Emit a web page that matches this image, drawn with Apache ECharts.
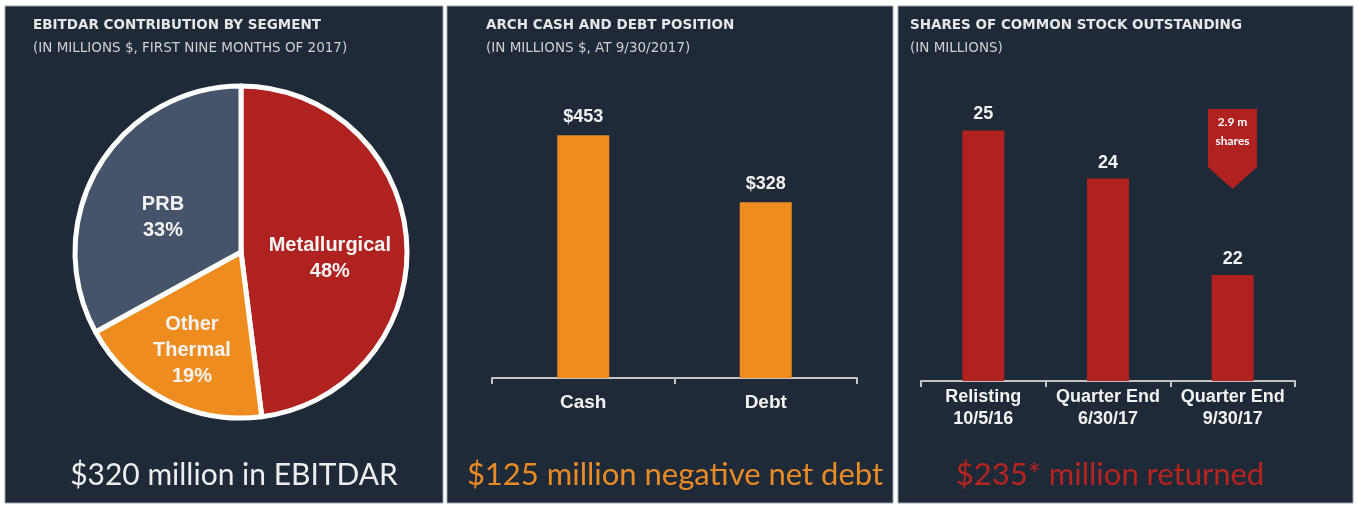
<!DOCTYPE html>
<html>
<head>
<meta charset="utf-8">
<script src="https://cdn.jsdelivr.net/npm/echarts@6/dist/echarts.min.js"></script>
<style>
  html, body { margin: 0; padding: 0; background: #ffffff; }
  #chart { width: 1358px; height: 505px; }
</style>
</head>
<body>
<div id="chart"></div>
<script>
// --- data ---
const segmentNames = ['Metallurgical', 'Other Thermal', 'PRB'];
const segmentShares = [48, 19, 33];
const positionCategories = ['Cash', 'Debt'];
const positionValues = [453, 328];
const shareCategories = ['Relisting\n10/5/16', 'Quarter End\n6/30/17', 'Quarter End\n9/30/17'];
const shareValues = [25, 24, 22];

const PANEL_BG = '#1f2a38';
const ORANGE = '#ee8c1f';
const RED = '#b0221f';
const SLATE = '#45546a';
const AXIS_GREY = '#c4c4c4';
const LABEL_FONT = '"Liberation Sans", Arial, sans-serif';
const HEAD_FONT = '"DejaVu Sans", "Liberation Sans", sans-serif';
const CAPTION_FONT = 'Lato, "Open Sans", sans-serif';

const segmentColors = { 'Metallurgical': RED, 'Other Thermal': ORANGE, 'PRB': SLATE };
const segmentLabelOffset = { 'Metallurgical': [3, 12], 'Other Thermal': [-10, 22], 'PRB': [-4, 9] };

const chart = echarts.init(document.getElementById('chart'));

const panel = (x, w) => ({ type: 'rect', shape: { x, y: 6, width: w, height: 497 }, style: { fill: PANEL_BG, stroke: '#9aa0a8', lineWidth: 1 }, z: -10 });
const caption = (x, text, color, size) => ({
    type: 'text', x, y: 475,
    style: { text, fill: color, font: `${size}px ${CAPTION_FONT}`, textAlign: 'center', textVerticalAlign: 'middle' }
});
const heading = (left, text, subtext) => ({
    text, subtext, left, top: 18, itemGap: 9, padding: 0,
    textStyle: { color: '#e6e6e6', fontSize: 13.5, fontWeight: 'bold', fontFamily: HEAD_FONT },
    subtextStyle: { color: '#cfcfcf', fontSize: 13.5, fontFamily: HEAD_FONT }
});
const categoryAxis = (gridIndex, data, fontSize, margin, lineHeight) => ({
    type: 'category', gridIndex, data,
    axisLine: { show: true, lineStyle: { color: AXIS_GREY, width: 2 } },
    axisTick: { show: true, length: 6, lineStyle: { color: AXIS_GREY, width: 2 } },
    axisLabel: { color: '#f2f2f2', fontSize, fontWeight: 'bold', fontFamily: LABEL_FONT, margin, lineHeight, interval: 0 }
});
const valueLabel = (distance) => ({
    show: true, position: 'top', distance,
    color: '#f2f2f2', fontSize: 18, fontWeight: 'bold', fontFamily: LABEL_FONT
});

chart.setOption({
    backgroundColor: '#ffffff',
    animation: false,
    title: [
        heading(33, 'EBITDAR CONTRIBUTION BY SEGMENT', '(IN MILLIONS $, FIRST NINE MONTHS OF 2017)'),
        heading(486, 'ARCH CASH AND DEBT POSITION', '(IN MILLIONS $, AT 9/30/2017)'),
        heading(910, 'SHARES OF COMMON STOCK OUTSTANDING', '(IN MILLIONS)')
    ],
    grid: [
        { left: 492, right: 501, top: 110, bottom: 127 },
        { left: 921, right: 63, top: 34, bottom: 124 }
    ],
    xAxis: [
        categoryAxis(0, positionCategories, 19, 14, 22),
        categoryAxis(1, shareCategories, 18, 5, 22)
    ],
    yAxis: [
        { type: 'value', gridIndex: 0, min: 0, max: 500, show: false },
        { type: 'value', gridIndex: 1, min: 19.8, max: 27, show: false }
    ],
    series: [
        {
            type: 'pie',
            center: [241, 252],
            radius: 166,
            startAngle: 90,
            clockwise: true,
            silent: true,
            itemStyle: { borderColor: '#ffffff', borderWidth: 5 },
            label: {
                show: true, position: 'inside',
                color: '#f4f4f4', fontSize: 20, fontWeight: 'bold', fontFamily: LABEL_FONT, lineHeight: 26,
                formatter: p => `${p.name.replace(' ', '\n')}\n${p.value}%`
            },
            labelLine: { show: false },
            data: segmentNames.map((name, i) => ({
                name, value: segmentShares[i],
                itemStyle: { color: segmentColors[name] },
                label: { offset: segmentLabelOffset[name] }
            }))
        },
        {
            type: 'bar', xAxisIndex: 0, yAxisIndex: 0,
            barWidth: 52,
            itemStyle: { color: ORANGE },
            label: { ...valueLabel(9), formatter: p => `$${p.value}` },
            data: positionValues
        },
        {
            type: 'bar', xAxisIndex: 1, yAxisIndex: 1,
            barWidth: 42,
            itemStyle: { color: RED },
            label: valueLabel(7),
            data: shareValues
        }
    ],
    graphic: [
        panel(5, 438),
        panel(447, 446),
        panel(898, 455),
        caption(234, '$320 million in EBITDAR', '#eeeeee', 30),
        caption(675, '$125 million negative net debt', '#e98b25', 31),
        caption(1110, '$235* million returned', '#b5241f', 31),
        {
            type: 'polygon',
            shape: { points: [[1208, 109], [1257, 109], [1257, 167], [1232.5, 189], [1208, 167]] },
            style: { fill: RED }
        },
        {
            type: 'text', x: 1232.5, y: 132,
            style: {
                text: '2.9 m\nshares', fill: '#ffffff', font: `bold 12px ${CAPTION_FONT}`,
                lineHeight: 19, textAlign: 'center', textVerticalAlign: 'middle'
            }
        }
    ]
});
</script>
</body>
</html>
